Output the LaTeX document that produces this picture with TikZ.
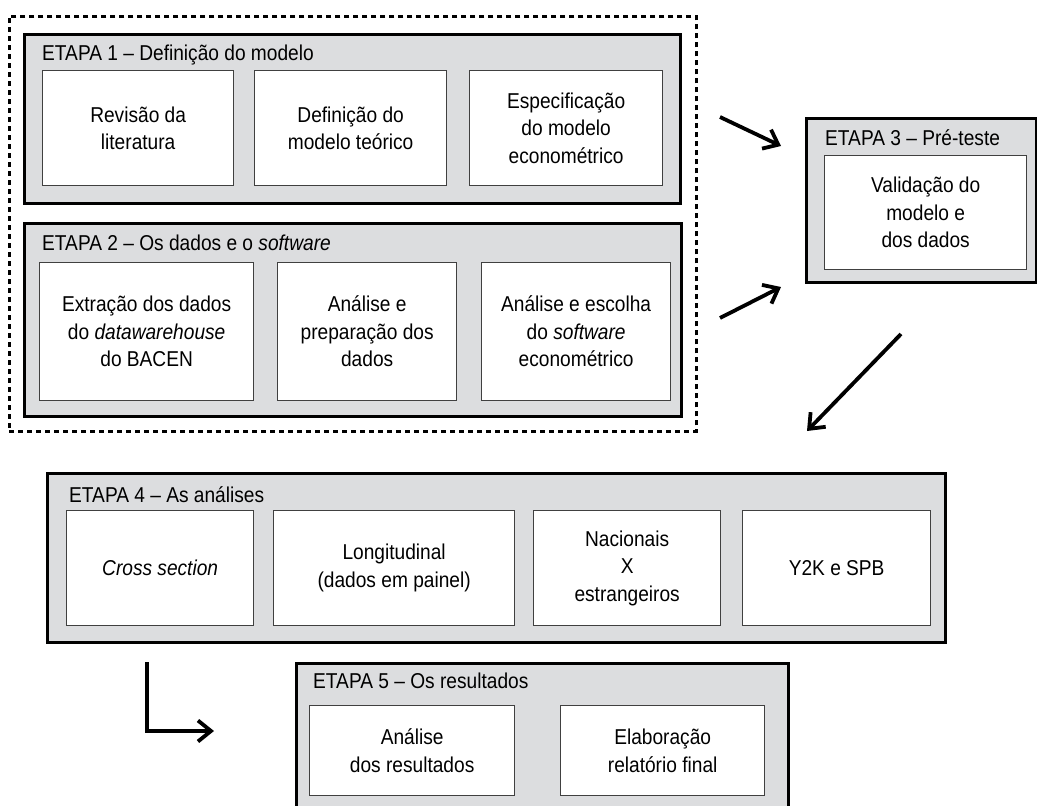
\documentclass[tikz,border=0pt]{standalone}
\usepackage{fontspec}
\setmainfont[FakeStretch=0.89]{Liberation Sans}
\usetikzlibrary{arrows.meta}
\definecolor{etapafill}{RGB}{220,221,223}
\begin{document}
\begin{tikzpicture}[x=1pt,y=-1pt,
  every node/.style={font=\fontsize{21.5}{27.5}\selectfont},
  etapa/.style={draw=black, line width=2.6pt, fill=etapafill, anchor=north west, inner sep=0pt},
  grpbox/.style={draw=black, line width=2.6pt, dash pattern=on 5pt off 4pt, anchor=north west, inner sep=0pt},
  titletext/.style={anchor=base west, inner sep=0pt},
  innerbox/.style={draw=black!75, line width=1.3pt, fill=white, align=center, anchor=north west, inner sep=2pt},
  flow/.style={line width=3.8pt, line join=miter, -{Straight Barb[length=13pt,width=21pt]}},
]
\path[use as bounding box, clip] (0,0) rectangle (1037,806);

% dashed group
\node[grpbox, minimum width=687pt, minimum height=415pt] (grp) at (8,15) {};

% ETAPA 1
\node[etapa, minimum width=656pt, minimum height=169pt] (e1) at (23,33) {};
\node[titletext] (t1) at (42,60) {ETAPA 1 -- Definição do modelo};
\node[innerbox, minimum width=191pt, minimum height=115pt] (b11) at (42,70) {Revisão da\\literatura};
\node[innerbox, minimum width=192pt, minimum height=115pt] (b12) at (254,70) {Definição do\\modelo teórico};
\node[innerbox, minimum width=193pt, minimum height=115pt] (b13) at (469,70) {Especificação\\do modelo\\econométrico};

% ETAPA 2
\node[etapa, minimum width=657pt, minimum height=193pt] (e2) at (23,222) {};
\node[titletext] (t2) at (42,250) {ETAPA 2 -- Os dados e o \textit{software}};
\node[innerbox, minimum width=214pt, minimum height=138pt] (b21) at (39,262) {Extração dos dados\\do \textit{datawarehouse}\\do BACEN};
\node[innerbox, minimum width=179pt, minimum height=138pt] (b22) at (277,262) {Análise e\\preparação dos\\dados};
\node[innerbox, minimum width=189pt, minimum height=138pt] (b23) at (481,262) {Análise e escolha\\do \textit{software}\\econométrico};

% ETAPA 3
\node[etapa, minimum width=230pt, minimum height=164pt] (e3) at (805,117) {};
\node[titletext] (t3) at (825,145) {ETAPA 3 -- Pré-teste};
\node[innerbox, minimum width=202pt, minimum height=114pt] (b31) at (824,155) {Validação do\\modelo e\\dos dados};

% ETAPA 4
\node[etapa, minimum width=898pt, minimum height=169pt] (e4) at (46,472) {};
\node[titletext] (t4) at (69,502) {ETAPA 4 -- As análises};
\node[innerbox, minimum width=187pt, minimum height=115pt] (b41) at (66,510) {\textit{Cross section}};
\node[innerbox, minimum width=241pt, minimum height=115pt] (b42) at (273,510) {Longitudinal\\(dados em painel)};
\node[innerbox, minimum width=187pt, minimum height=115pt] (b43) at (533,510) {Nacionais\\X\\estrangeiros};
\node[innerbox, minimum width=188pt, minimum height=115pt] (b44) at (742,510) {Y2K e SPB};

% ETAPA 5
\node[etapa, minimum width=492pt, minimum height=150pt] (e5) at (295,662) {};
\node[titletext] (t5) at (313,688) {ETAPA 5 -- Os resultados};
\node[innerbox, minimum width=205pt, minimum height=90pt] (b51) at (309,705) {Análise\\dos resultados};
\node[innerbox, minimum width=204pt, minimum height=90pt] (b52) at (560,705) {Elaboração\\relatório final};

% arrows
\coordinate (a1s) at (720,117);
\coordinate (a1e) at (781,146);
\coordinate (a2s) at (720,318);
\coordinate (a2e) at (781,287);
\coordinate (a3s) at (901,334);
\coordinate (a3e) at (807,431);
\coordinate (a4s) at (147,662);
\coordinate (a4e) at (214,731);
\draw[flow] (a1s) -- (a1e);
\draw[flow] (a2s) -- (a2e);
\draw[flow] (a3s) -- (a3e);
\draw[flow] (a4s) |- (a4e);
\end{tikzpicture}
\end{document}
